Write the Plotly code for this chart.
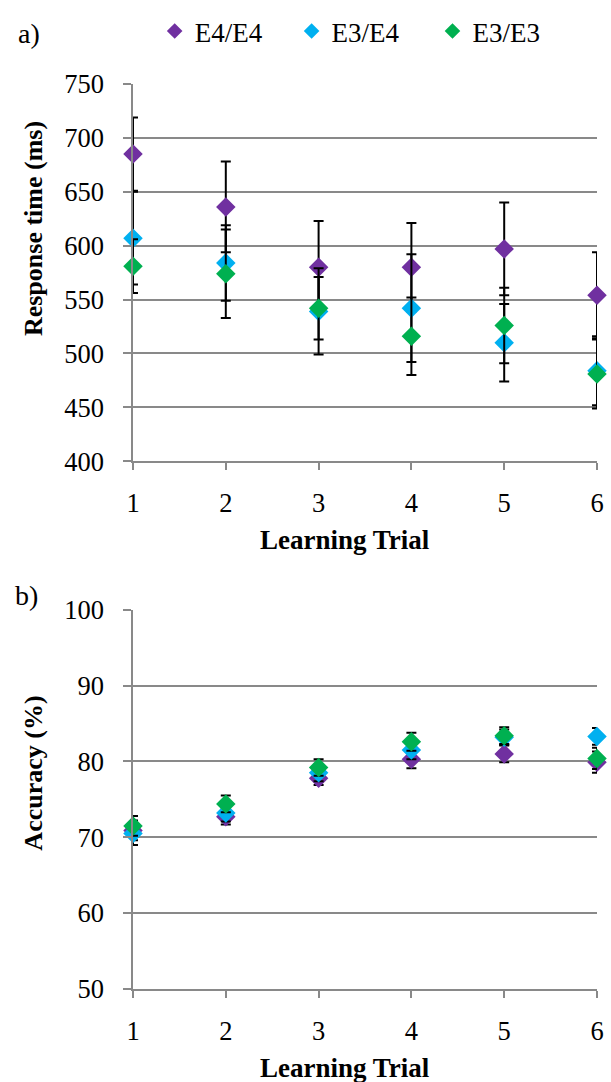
import plotly.graph_objects as go
from plotly.subplots import make_subplots

trials = [1, 2, 3, 4, 5, 6]
groups = ["E4/E4", "E3/E4", "E3/E3"]
colors = ["#7030A0", "#00B0F0", "#00B050"]

# Panel a) Response time (ms)
rt_e4e4 = [685, 636, 580, 580, 597, 554]
rt_e3e4 = [607, 584, 539, 542, 510, 484]
rt_e3e3 = [581, 574, 542, 516, 526, 481]
rt_err_e4e4 = [34, 42, 43, 41, 43, 40]
rt_err_e3e4 = [43, 35, 40, 50, 36, 32]
rt_err_e3e3 = [25, 41, 29, 36, 35, 32]

# Panel b) Accuracy (%)
acc_e4e4 = [70.9, 72.7, 77.8, 80.3, 81.0, 79.9]
acc_e3e4 = [70.5, 73.2, 78.5, 81.5, 83.2, 83.3]
acc_e3e3 = [71.5, 74.4, 79.2, 82.6, 83.4, 80.4]
acc_err_e4e4 = [1.3, 1.0, 0.9, 1.2, 1.1, 1.4]
acc_err_e3e4 = [1.5, 1.1, 1.1, 1.2, 1.0, 1.1]
acc_err_e3e3 = [1.3, 1.1, 1.1, 1.2, 1.1, 1.4]

rt_vals = [rt_e4e4, rt_e3e4, rt_e3e3]
rt_errs = [rt_err_e4e4, rt_err_e3e4, rt_err_e3e3]
acc_vals = [acc_e4e4, acc_e3e4, acc_e3e3]
acc_errs = [acc_err_e4e4, acc_err_e3e4, acc_err_e3e3]

W, H = 611, 1082
L, R, T, B = 133, 7, 75, 93
PW, PH = W - L - R, H - T - B


def px(x):
    return (x - L) / PW


def py(y):
    return (H - B - y) / PH


FONT = "Liberation Serif"
GRID = "#898989"

fig = make_subplots(rows=2, cols=1, vertical_spacing=0.0)

legend_names = ["legend", "legend2", "legend3"]
for i, g in enumerate(groups):
    fig.add_trace(go.Scatter(
        x=trials, y=rt_vals[i], mode="markers", name=g,
        marker=dict(symbol="diamond", size=15, color=colors[i], line=dict(width=0)),
        error_y=dict(type="data", array=rt_errs[i], visible=True,
                     color="black", thickness=2, width=5),
        cliponaxis=False, legend=legend_names[i], showlegend=True,
    ), row=1, col=1)
for i, g in enumerate(groups):
    fig.add_trace(go.Scatter(
        x=trials, y=acc_vals[i], mode="markers", name=g,
        marker=dict(symbol="diamond", size=15, color=colors[i], line=dict(width=0)),
        error_y=dict(type="data", array=acc_errs[i], visible=True,
                     color="black", thickness=2, width=5),
        cliponaxis=False, showlegend=False,
    ), row=2, col=1)

axis_common = dict(
    showline=True, linecolor=GRID, linewidth=1.5,
    tickfont=dict(family=FONT, size=26.5, color="black"),
    ticks="outside", tickcolor=GRID, tickwidth=1.5,
)

fig.update_xaxes(range=[1, 6], tickvals=trials, ticklen=7, showgrid=False,
                 zeroline=False, ticklabelstandoff=10, **axis_common)
fig.update_yaxes(showgrid=True, gridcolor=GRID, gridwidth=1.5, zeroline=False,
                 ticklen=8, ticklabelstandoff=14, **axis_common)
fig.update_yaxes(range=[400, 750], tickvals=[400, 450, 500, 550, 600, 650, 700, 750], row=1, col=1)
fig.update_yaxes(range=[50, 100], tickvals=[50, 60, 70, 80, 90, 100], row=2, col=1)

fig.update_layout(
    xaxis=dict(domain=[0, 1]),
    yaxis=dict(domain=[py(456), py(75)]),
    yaxis2=dict(domain=[py(989), py(606)]),
)

leg_x = [175, 314, 457]
for i, ln in enumerate(legend_names):
    fig.update_layout({ln: dict(
        x=px(leg_x[i] - 20), y=py(22), xanchor="left", yanchor="middle",
        orientation="h", bgcolor="rgba(0,0,0,0)", borderwidth=0,
        font=dict(family=FONT, size=27, color="black"),
        itemsizing="constant",
    )})

annotations = [
    dict(text="a)", x=px(27), y=py(24)),
    dict(text="b)", x=px(25), y=py(592)),
    dict(text="<b>Response time (ms)</b>", x=px(32), y=py(221), textangle=-90, size=26),
    dict(text="<b>Accuracy (%)</b>", x=px(32), y=py(771), textangle=-90, size=26),
    dict(text="<b>Learning Trial</b>", x=px(348), y=py(536), size=27),
    dict(text="<b>Learning Trial</b>", x=px(348), y=py(1069), size=27),
]
for a in annotations:
    fig.add_annotation(
        text=a["text"], x=a["x"], y=a["y"], xref="paper", yref="paper",
        xanchor="center", yanchor="middle", showarrow=False,
        textangle=a.get("textangle", 0),
        font=dict(family=FONT, size=a.get("size", 28), color="black"),
    )

fig.update_layout(
    width=W, height=H,
    margin=dict(l=L, r=R, t=T, b=B, pad=0),
    paper_bgcolor="white", plot_bgcolor="white",
    font=dict(family=FONT, color="black"),
)

fig.write_html("out.html")
